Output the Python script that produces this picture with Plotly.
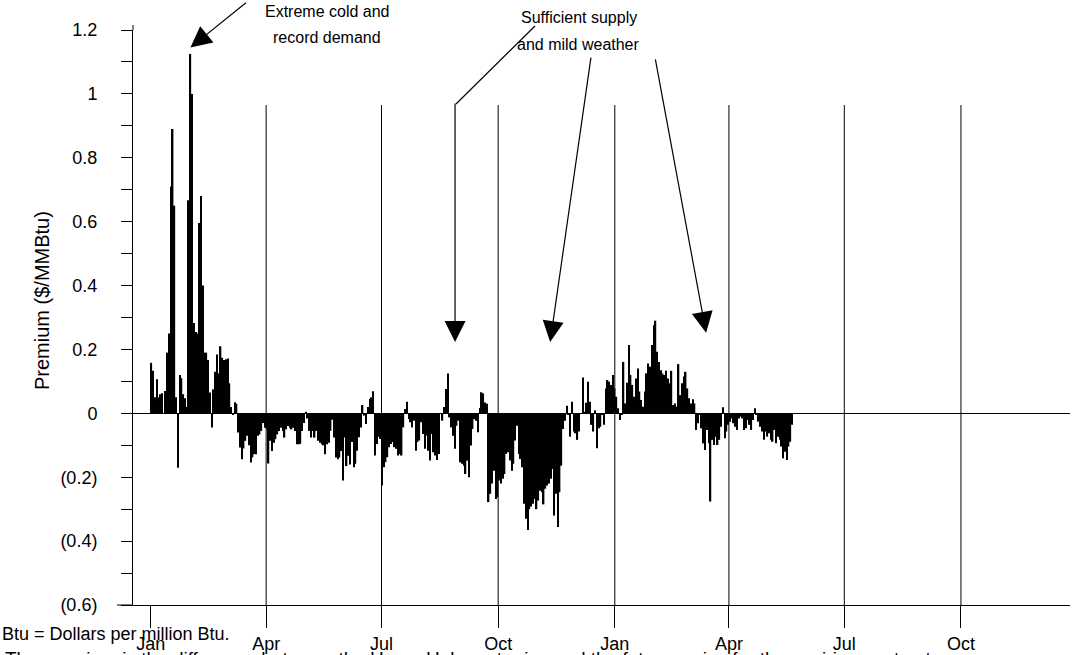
import pandas as pd
import plotly.graph_objects as go

# ---- data: daily Henry Hub premium ($/MMBtu) ----
premium_winter = [0.158, 0.133, 0.05, 0.107, 0.05, 0.06, 0.063, 0.0, 0.07, 0.19, 0.25, 0.71, 0.89, 0.65,
                  0.05, -0.17, 0.12, 0.11, 0.06, 0.047, 0.02, 0.667, 1.125, 1.0, 0.283, 0.255, 0.25, 0.596,
                  0.68, 0.40, 0.19, 0.19, 0.167, 0.065, -0.044, 0.075, 0.13, 0.184, 0.125, 0.21, 0.174,
                  0.167, 0.169, 0.172, 0.094, 0.02, -0.005, 0.035, 0.03]
premium_spring = [-0.06, -0.107, -0.144, -0.11, -0.086, -0.07, -0.10, -0.154, -0.138, -0.128, -0.128, -0.07,
                  -0.066, -0.055, -0.03, -0.045, -0.05, -0.157, -0.086, -0.118, -0.092, -0.081, -0.066,
                  -0.055, -0.045, -0.055, -0.076, -0.05, -0.04, -0.045, -0.05, -0.045, -0.055, -0.097,
                  -0.097, -0.095, -0.055, -0.03, 0.005, -0.016, -0.055, -0.076, -0.055, -0.076, -0.055,
                  -0.086, -0.092, -0.097, -0.10, -0.128, -0.097, -0.092, -0.055, -0.02, -0.076, -0.138,
                  -0.144, -0.138, -0.118, -0.21, -0.076, -0.165, -0.133, -0.16]
premium_summer = [-0.09, -0.169, -0.158, -0.117, -0.075, -0.044, 0.026, -0.007, -0.033, 0.02, 0.045, 0.05,
                  0.069, -0.132, -0.096, -0.073, -0.08, -0.226, -0.169, -0.153, -0.1375, -0.106, -0.096,
                  -0.09, -0.106, -0.111, -0.132, -0.127, -0.132, -0.044, 0.0135, 0.036, -0.018, -0.028,
                  -0.044, -0.023, -0.117, -0.09, -0.085, -0.028, -0.065, -0.111, -0.07, -0.117, -0.148,
                  -0.065, -0.122, -0.132, -0.146, -0.127, 0.0, -0.023, 0.02, 0.076, 0.125, -0.0125,
                  -0.044, -0.07, -0.111, -0.039, -0.023, -0.153]
premium_autumn = [-0.158, -0.164, -0.19, -0.148, -0.2, -0.101, -0.049, -0.018, -0.023, -0.059, 0.017, 0.066,
                  0.0625, 0.034, 0.03, -0.278, -0.252, -0.22, -0.18, -0.268, -0.2625, -0.21, -0.22,
                  -0.205, -0.19, -0.127, -0.122, -0.148, -0.18, -0.158, -0.085, -0.039, -0.127, -0.143,
                  -0.169, -0.283, -0.33, -0.365, -0.30, -0.292, -0.283, -0.268, -0.30, -0.273, -0.242,
                  -0.247, -0.285, -0.236, -0.226, -0.22, -0.205, -0.174, -0.32, -0.252, -0.356, -0.247,
                  -0.164, -0.049, -0.023, 0.024]
premium_winter2 = [-0.005, -0.073, 0.036, -0.057, -0.0625, -0.083, -0.057, 0.0, 0.1125, 0.005, 0.033, 0.099,
                   0.036, -0.036, -0.057, 0.01, -0.109, -0.047, -0.042, -0.005, -0.036, 0.078, 0.104,
                   0.099, 0.089, 0.12, 0.078, 0.052, 0.016, -0.021, -0.005, 0.161, 0.031, 0.096, 0.214,
                   0.12, 0.089, 0.052, 0.109, 0.14, 0.068, 0.042, 0.021, 0.068, 0.125, 0.156, 0.146,
                   0.214, 0.276, 0.29, 0.193, 0.161, 0.135, 0.125, 0.12, 0.133, 0.109, 0.094, 0.133,
                   0.026, 0.031, 0.021]
premium_spring2 = [0.154, 0.057, 0.094, 0.115, 0.13, 0.078, 0.047, 0.031, 0.044, 0.031, -0.052, -0.031,
                   -0.005, -0.047, -0.094, -0.115, -0.052, -0.094, -0.276, -0.083, -0.099, -0.073, -0.099,
                   -0.083, -0.042, 0.019, -0.078, -0.057, -0.036, -0.026, -0.016, -0.031, -0.042, -0.052,
                   -0.016, -0.010, -0.016, -0.052, -0.047, -0.021, -0.036, -0.052, -0.021, 0.016, -0.005,
                   -0.026, -0.042, -0.057, -0.083, -0.057, -0.073, -0.0625, -0.083, -0.089, -0.052,
                   -0.094, -0.073, -0.083, -0.104, -0.141, -0.12, -0.146, -0.104, -0.089, -0.036]

premium = (premium_winter + premium_spring + premium_summer + premium_autumn
           + premium_winter2 + premium_spring2)

start_date = "1996-01-01 12:00"
bar_step = "33h36min"          # trading-day spacing (5 bars per 7 days)
dates = pd.date_range(start_date, periods=len(premium), freq=bar_step)

quarter_dates = ["1996-01-01", "1996-04-01", "1996-07-01", "1996-10-01",
                 "1997-01-01", "1997-04-01", "1997-07-01", "1997-10-01"]
quarter_labels = ["Jan", "Apr", "Jul", "Oct", "Jan", "Apr", "Jul", "Oct"]

y_ticks = [round(-0.6 + 0.1 * i, 1) for i in range(19)]


def y_label(v):
    if abs(round(v * 10)) % 2 == 1:
        return ""
    if v == 0:
        return "0"
    s = ("%.1f" % abs(v)).rstrip("0").rstrip(".")
    return "(%s)" % s if v < 0 else s


y_text = [y_label(v) for v in y_ticks]

# ---- layout geometry (pixels) ----
W, H = 1074, 655
L, R, T, B = 133, 4, 30, 50
PW, PH = W - L - R, H - T - B


def px(xp):
    return (xp - L) / PW


def py(yp):
    return (H - B - yp) / PH


FONT = "Liberation Sans, Arial, sans-serif"

fig = go.Figure()
fig.add_trace(go.Bar(x=dates, y=premium, marker=dict(color="black", line=dict(width=0)),
                     hoverinfo="x+y"))

GRID_TOP = 0.965
shapes = []
for d in quarter_dates[1:]:
    shapes.append(dict(type="line", xref="x", yref="y", x0=d, x1=d, y0=-0.6, y1=GRID_TOP,
                       line=dict(color="black", width=1), layer="above"))
# bottom axis line extends a little left of the y axis; y axis line a little above 1.2
shapes.append(dict(type="line", xref="paper", yref="paper", x0=px(117), x1=0, y0=0, y1=0,
                   line=dict(color="black", width=1)))
shapes.append(dict(type="line", xref="paper", yref="paper", x0=0, x1=0, y0=1, y1=py(25),
                   line=dict(color="black", width=1)))
# leader line of the first "sufficient supply" arrow
shapes.append(dict(type="line", xref="paper", yref="paper", x0=px(456), y0=py(104),
                   x1=px(535), y1=py(26), line=dict(color="black", width=1.2)))

imax = max(range(len(premium)), key=lambda i: premium[i])
peak_date, peak_val = dates[imax], premium[imax]

arrow_style = dict(showarrow=True, arrowcolor="black", arrowwidth=1.2, arrowhead=2,
                   arrowsize=3.5, standoff=0, startstandoff=0, text="", axref="pixel", ayref="pixel")

annotations = [
    dict(x=peak_date, y=peak_val + 0.02, xref="x", yref="y", ax=57, ay=-46, **arrow_style),
    dict(x="1996-08-28", y=0.223, xref="x", yref="y", ax=0, ay=-240, **arrow_style),
    dict(x="1996-11-11", y=0.223, xref="x", yref="y", ax=41, ay=-286, **arrow_style),
    dict(x="1997-03-14", y=0.252, xref="x", yref="y", ax=-51, ay=-275, **arrow_style),
]

texts = [
    ("Extreme cold and", 327, 12),
    ("record demand", 327, 38),
    ("Sufficient supply", 579, 18),
    ("and mild weather", 578, 44),
]
for t, xx, yy in texts:
    annotations.append(dict(text=t, xref="paper", yref="paper", x=px(xx), y=py(yy),
                            xanchor="center", yanchor="middle", showarrow=False,
                            font=dict(family=FONT, size=16, color="black")))

annotations.append(dict(text="Premium ($/MMBtu)", textangle=-90, xref="paper", yref="paper",
                        x=px(42), y=py(301), xanchor="center", yanchor="middle", showarrow=False,
                        font=dict(family=FONT, size=20, color="black")))
annotations.append(dict(text="Btu = Dollars per million Btu.", xref="paper", yref="paper",
                        x=px(0), y=py(634), xanchor="left", yanchor="middle", showarrow=False,
                        font=dict(family=FONT, size=18, color="black")))
annotations.append(dict(text="The premium is the difference between the Henry Hub spot price and the "
                             "futures price for the expiring contract.",
                        xref="paper", yref="paper", x=px(3), y=py(658), xanchor="left",
                        yanchor="middle", showarrow=False,
                        font=dict(family=FONT, size=19, color="black")))

fig.update_layout(
    width=W, height=H, margin=dict(l=L, r=R, t=T, b=B, autoexpand=False),
    paper_bgcolor="white", plot_bgcolor="white", bargap=0.2, showlegend=False,
    font=dict(family=FONT, color="black"),
    shapes=shapes, annotations=annotations,
    xaxis=dict(type="date", range=["1995-12-18", "1997-12-26"], tickvals=quarter_dates,
               ticktext=quarter_labels, ticks="outside", ticklen=22, tickcolor="black",
               showline=True, linecolor="black", linewidth=1, showgrid=False, zeroline=False,
               automargin=False, tickfont=dict(family=FONT, size=18, color="black")),
    yaxis=dict(range=[-0.6, 1.2], tickvals=y_ticks, ticktext=y_text, ticks="outside", ticklen=11,
               tickcolor="black", showline=True, linecolor="black", linewidth=1, showgrid=False,
               zeroline=True, zerolinecolor="black", zerolinewidth=1, ticklabelstandoff=20,
               automargin=False, tickfont=dict(family=FONT, size=18, color="black")),
)

fig.write_html("out.html", config={"displayModeBar": False},
               post_script="document.body.style.margin='0';"
                           "document.documentElement.style.overflow='hidden';")
